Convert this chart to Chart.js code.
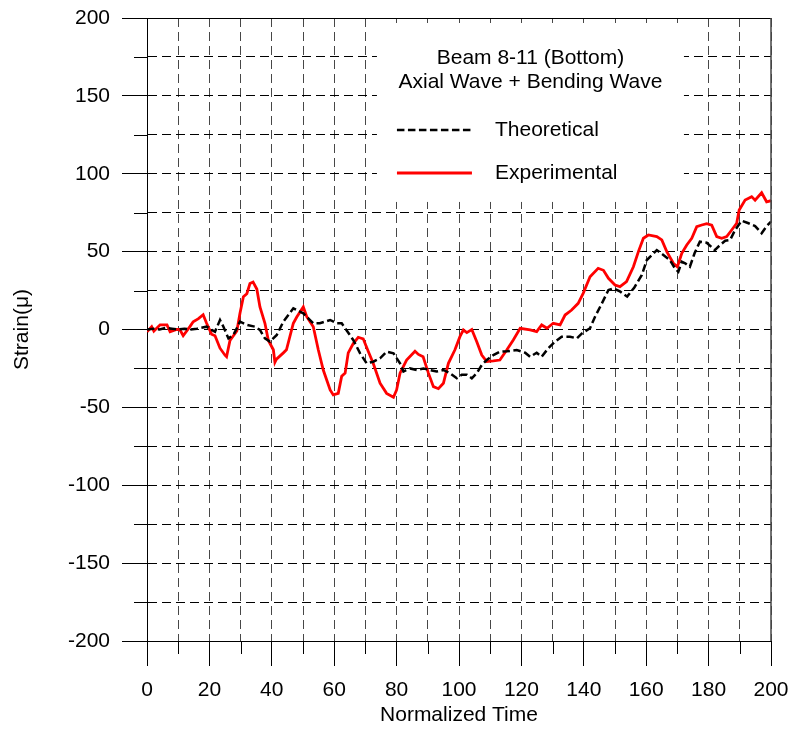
<!DOCTYPE html>
<html>
<head>
<meta charset="utf-8">
<title>Beam 8-11 strain</title>
<script src="https://cdn.jsdelivr.net/npm/chart.js@4/dist/chart.umd.min.js"></script>
<style>
  body { margin: 0; background: #fff; }
  #wrap { width: 792px; height: 731px; }
</style>
</head>
<body>
<div id="wrap"><canvas id="strainChart" width="792" height="731"></canvas></div>
<script>
// theoretical response (axial + bending wave)
const timeT = [0, 2, 4, 6, 8, 10, 12, 14, 16, 19.1, 20.7, 21.8, 23.4, 24.5, 26.1, 27.7, 29.8, 32, 34.6, 36.2,
  37.8, 39.4, 41.6, 43.7, 46.9, 49, 50.1, 51.7, 53.3, 55.4, 58.7, 60.8, 62.4, 63.9, 66.1, 68.3, 70.4, 72.5,
  74.7, 76.8, 79, 81.1, 82.2, 84.3, 86.5, 88.6, 90.7, 92.8, 95, 97.1, 99.3, 100.9, 102.5, 104.1, 105.7,
  107.3, 108.9, 111, 113.1, 115.3, 118.5, 121.2, 122.8, 124.9, 126.5, 128.6, 130.8, 132.9, 135.6, 137.8,
  139.4, 142, 143.6, 145.8, 147.9, 149.6, 151.7, 153.9, 156.2, 158.6, 160.2, 161.8, 163.4, 165.5, 167.6,
  169.2, 170.3, 171.4, 172.5, 174, 175.5, 177.2, 179.4, 182, 183.7, 185.3, 186.9, 188.5, 190.6, 192.8,
  194.9, 197, 198.6, 200];
const strainT = [0, 0.5, 0, 1, 0.5, 0, 0.5, 0, 0.5, 1.8, -0.3, -1.4, 6.1, 1.8, -5.7, -3.5, 5, 3, 1.8, -0.3,
  -5.7, -7.8, -3.5, 5, 13.6, 11.5, 10.4, 7.2, 4, 4, 6.1, 4, 4, -0.3, -6.7, -15.3, -21.7, -20.7,
  -18.5, -14.2, -15.3, -21.7, -27, -25, -26, -25, -26, -27, -26, -28.1, -31.3, -29, -29, -31.3, -28,
  -22.8, -19.6, -16.4, -14.2, -14, -13.2, -14.9, -17.5, -14.9, -17.5, -12.1, -7.8, -4.6, -4.6, -5.7,
  -2.5, 0.8, 8.2, 16.8, 25.4, 26.4, 24.3, 21.1, 27, 35, 44.6, 47.8, 51, 47.8, 44.6,
  39.3, 37.1, 43.5, 42.5, 40.3, 48.9, 56.4, 55.7, 51, 54.3, 57, 57.5, 63.9, 69.9, 68.2,
  66.4, 61.8, 66.4, 69.2];

// measured response
const timeE = [0, 1.5, 2.2, 4.2, 6.4, 7.4, 9.5, 10.5, 11.6, 13.8, 14.8, 16.5, 18, 19.1, 20.7, 21.8, 23.4, 25,
  25.5, 26.6, 27.7, 28.8, 29.8, 30.9, 32, 33, 34, 35.2, 36.2, 37.8, 38.9, 40.5, 41, 41.5, 43.7, 44.7,
  46.9, 48, 50.1, 51.2, 53.3, 54.9, 56.5, 58.7, 59.7, 61.3, 62.4, 63.5, 64.5, 66.1, 67.7, 69.3, 70.9,
  72.5, 74.7, 76.8, 79, 80, 81.1, 83.2, 85.9, 87, 88.5, 90.2, 91.8, 93.4, 95, 96.6, 98.7, 100.3, 101.4,
  102.5, 104.1, 105.7, 107.3, 108.9, 111, 113.1, 115.3, 117.4, 119.6, 122.8, 124.9, 126.5, 128.2, 130.2,
  132.4, 134, 136.1, 138.2, 139.8, 142, 144.6, 146.3, 147.9, 150, 151.6, 153.7, 155.9, 157.5, 159.1,
  160.7, 163.4, 165, 166.6, 168.7, 170, 171.4, 173, 174.6, 176.2, 177.8, 179.4, 181, 182.6, 184.2,
  185.8, 187.4, 189, 189.8, 191.7, 193.8, 194.9, 197, 198.6, 200];
const strainE = [-1.4, 1.8, -1, 3, 3, -1.4, 0, 0, -4, 2, 5, 7, 9.5, 4, -3, -4, -12, -16.5,
  -17.5, -7, -4, -1, 10.5, 21, 23, 29.5, 30.5, 26, 14.5, 4, -7, -13, -21, -19, -15, -13,
  4, 8, 14.5, 8.2, 1.8, -13, -26, -38.8, -42, -41, -30, -28, -15, -9, -5, -6, -14,
  -21.7, -34.5, -41, -43.5, -38.8, -28, -19.6, -14, -16, -17.5, -28, -36.7, -38, -34.5, -21.7, -13, -4.6, -0.3,
  -2, 0, -7.8, -16.4, -20.6, -20.2, -19.6, -13.2, -6.7, 0.8, -0.3, -1.4, 2.9, 0.8, 4,
  3, 9.3, 12.5, 16.8, 23.2, 33.9, 39.3, 38, 32.9, 28.6, 27.5, 30.7, 40.3, 50, 58.6,
  60.7, 59.6, 57.5, 50, 42.5, 40.3, 48.9, 54.3, 58.6, 66, 67.1, 68, 67, 59.6, 58.6,
  59.6, 63.9, 68.2, 76.7, 83.1, 85.3, 83, 87.8, 82, 82.7];

const seriesNames = ["Theoretical", "Experimental"];
const plotTitle = ["Beam 8-11 (Bottom)", "Axial Wave + Bending Wave"];

function toPoints(xs, ys) {
  return xs.map((x, i) => ({ x: x, y: ys[i] }));
}

Chart.defaults.font.family = "'Liberation Sans', Arial, sans-serif";
Chart.defaults.font.size = 21;
Chart.defaults.color = "#000";

const theoDash = [7.5, 3.5];

// frame, minor ticks and the boxed legend
const extras = {
  id: "extras",
  beforeDatasetsDraw(chart) {
    const ctx = chart.ctx;
    const xs = chart.scales.x;
    const ys = chart.scales.y;
    const l = xs.getPixelForValue(73.7), r = xs.getPixelForValue(172.1);
    const t = ys.getPixelForValue(196.8), b = ys.getPixelForValue(81.9);
    ctx.save();
    ctx.fillStyle = "#fff";
    ctx.fillRect(l, t, r - l, b - t);
    ctx.fillStyle = "#000";
    ctx.textAlign = "center";
    ctx.textBaseline = "middle";
    ctx.font = "21px 'Liberation Sans', Arial, sans-serif";
    const cx = (l + r) / 2;
    ctx.fillText(plotTitle[0], cx, t + 35);
    ctx.fillText(plotTitle[1], cx, t + 59);
    ctx.textAlign = "left";
    ctx.fillText(seriesNames[0], l + 118, t + 107);
    ctx.fillText(seriesNames[1], l + 118, t + 150);
    ctx.lineWidth = 2.5;
    ctx.strokeStyle = "#000";
    ctx.setLineDash(theoDash);
    ctx.beginPath();
    ctx.moveTo(l + 20, t + 107);
    ctx.lineTo(l + 95, t + 107);
    ctx.stroke();
    ctx.setLineDash([]);
    ctx.strokeStyle = "#ff0000";
    ctx.lineWidth = 2.8;
    ctx.beginPath();
    ctx.moveTo(l + 20, t + 150);
    ctx.lineTo(l + 95, t + 150);
    ctx.stroke();
    ctx.restore();
  },
  afterDraw(chart) {
    const ctx = chart.ctx;
    const a = chart.chartArea;
    const xs = chart.scales.x;
    const ys = chart.scales.y;
    ctx.save();
    ctx.strokeStyle = "#000";
    ctx.lineWidth = 1;
    ctx.beginPath();
    for (let v = -175; v < 200; v += 50) {
      const py = Math.round(ys.getPixelForValue(v)) + 0.5;
      ctx.moveTo(a.left - 13, py);
      ctx.lineTo(a.left, py);
    }
    for (let v = 10; v < 200; v += 20) {
      const px = Math.round(xs.getPixelForValue(v)) + 0.5;
      ctx.moveTo(px, a.bottom);
      ctx.lineTo(px, a.bottom + 13);
    }
    ctx.stroke();
    ctx.beginPath();
    ctx.moveTo(a.left, Math.round(a.top) + 0.5);
    ctx.lineTo(a.right, Math.round(a.top) + 0.5);
    ctx.stroke();
    ctx.strokeStyle = "#444";
    ctx.lineWidth = 1.5;
    ctx.beginPath();
    ctx.moveTo(a.right, a.top);
    ctx.lineTo(a.right, a.bottom);
    ctx.stroke();
    ctx.restore();
  }
};

const strainChart = new Chart(document.getElementById("strainChart"), {
  type: "scatter",
  data: {
    datasets: [
      {
        label: seriesNames[0],
        data: toPoints(timeT, strainT),
        showLine: true,
        borderColor: "#000",
        borderWidth: 2.5,
        borderDash: theoDash,
        pointRadius: 0,
        tension: 0,
      },
      {
        label: seriesNames[1],
        data: toPoints(timeE, strainE),
        showLine: true,
        borderColor: "#ff0000",
        borderWidth: 2.8,
        pointRadius: 0,
        tension: 0,
      },
    ],
  },
  options: {
    responsive: false,
    animation: false,
    layout: { padding: { left: 0, right: 21, top: 18, bottom: 0 } },
    plugins: {
      legend: { display: false },
      tooltip: { enabled: false },
    },
    scales: {
      x: {
        type: "linear",
        min: 0,
        max: 200,
        afterFit(scale) {
          scale.height = 90;
          scale.paddingLeft = 0;
          scale.paddingRight = 0;
        },
        ticks: {
          stepSize: 10,
          autoSkip: false,
          minRotation: 0,
          maxRotation: 0,
          padding: 12,
          callback: (v) => (v % 20 === 0 ? v : ""),
        },
        grid: {
          color: "rgba(0,0,0,0.72)",
          lineWidth: 1,
          tickLength: 25,
          tickColor: (c) => (c.tick && c.tick.value % 20 === 0 ? "#000" : "rgba(0,0,0,0)"),
        },
        border: { color: "#000", width: 1, dash: [9, 5] },
        title: { display: true, text: "Normalized Time", padding: { top: 0, bottom: 3 } },
      },
      y: {
        type: "linear",
        min: -200,
        max: 200,
        afterFit(scale) {
          scale.width = 147;
          scale.paddingTop = 0;
          scale.paddingBottom = 0;
        },
        ticks: {
          stepSize: 25,
          autoSkip: false,
          padding: 12,
          callback: (v) => (v % 50 === 0 ? v : ""),
        },
        grid: {
          color: "#000",
          lineWidth: 1,
          tickLength: 25,
          tickColor: (c) => (c.tick && c.tick.value % 50 === 0 ? "#000" : "rgba(0,0,0,0)"),
        },
        border: { color: "#000", width: 1, dash: [9, 5] },
        title: { display: true, text: "Strain(μ)", padding: { top: 10, bottom: 0 } },
      },
    },
  },
  plugins: [extras],
});
</script>
</body>
</html>
